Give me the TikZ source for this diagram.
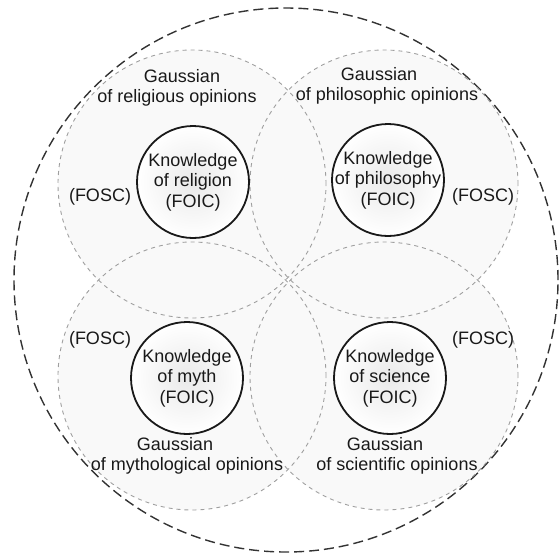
\documentclass[tikz,border=0pt]{standalone}
\usepackage{fontspec}
\setmainfont{Liberation Sans}
\begin{document}
\begin{tikzpicture}[x=1pt,y=-1pt,
  outerc/.style={circle, minimum size=544pt, inner sep=0pt, draw=black!80, line width=1.4pt, dash pattern=on 10pt off 5pt},
  gfill/.style={circle, minimum size=268pt, inner sep=0pt, fill=gray!5},
  gline/.style={circle, minimum size=268pt, inner sep=0pt, draw=gray!75, line width=0.9pt, dash pattern=on 4pt off 4pt},
  know/.style={circle, minimum size=112pt, inner sep=0pt, draw=black!90, line width=1.8pt, inner color=gray!17, outer color=white},
  txt/.style={align=center, inner sep=0pt, text=black!90, font=\fontsize{18}{20.5}\selectfont}
]
\useasboundingbox (0,0) rectangle (559,558);
\node[outerc] (all) at (286,280) {};
% gaussian regions
\node[gfill] (g1) at (192,184) {};
\node[gfill] (g2) at (384,184) {};
\node[gfill] (g3) at (192,376) {};
\node[gfill] (g4) at (384,376) {};
\node[gline] (g1o) at (g1) {};
\node[gline] (g2o) at (g2) {};
\node[gline] (g3o) at (g3) {};
\node[gline] (g4o) at (g4) {};
% knowledge circles
\node[know] (k1) at (193,182) {};
\node[know] (k2) at (388,180) {};
\node[know] (k3) at (187,378) {};
\node[know] (k4) at (390,378) {};
\node[txt] (t1) at (k1) {Knowledge\\of religion\\(FOIC)};
\node[txt] (t2) at (k2) {Knowledge\\of philosophy\\(FOIC)};
\node[txt] (t3) at (k3) {Knowledge\\of myth\\(FOIC)};
\node[txt] (t4) at (k4) {Knowledge\\of science\\(FOIC)};
% gaussian labels
\node[txt] (l1) at (177,88) {\hspace*{10pt}Gaussian\\of religious opinions};
\node[txt] (l2) at (387,86) {Gaussian\hspace*{16pt}\\of philosophic opinions};
\node[txt] (l3) at (187,456) {Gaussian\hspace*{24pt}\\of mythological opinions};
\node[txt] (l4) at (397,456) {Gaussian\hspace*{24pt}\\of scientific opinions};
% FOSC labels
\node[txt] (f1) at (100,197) {(FOSC)};
\node[txt] (f2) at (483,197) {(FOSC)};
\node[txt] (f3) at (100,340) {(FOSC)};
\node[txt] (f4) at (483,340) {(FOSC)};
\end{tikzpicture}
\end{document}
